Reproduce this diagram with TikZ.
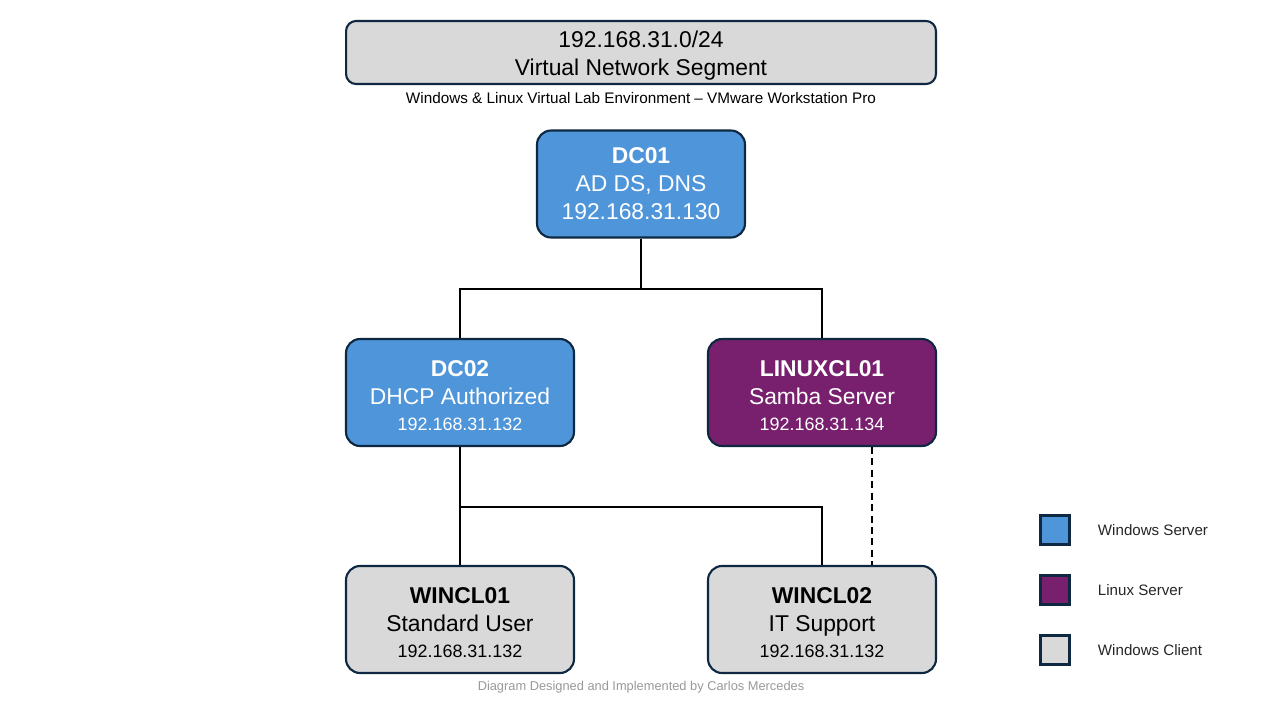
\documentclass[tikz,border=0pt]{standalone}
\usepackage{fontspec}
\setmainfont{Liberation Sans}
\definecolor{winsrv}{HTML}{4E95D9}
\definecolor{linsrv}{HTML}{78206E}
\definecolor{wincli}{HTML}{D9D9D9}
\definecolor{edge}{HTML}{0E2841}
\newcommand\ipsmall[1]{{\fontsize{10.2}{12}\selectfont #1}}
\newcommand\hoststrut{\rule{0pt}{12.4pt}}

\begin{document}
\begin{tikzpicture}[x=0.02cm,y=-0.02cm,line width=1.1pt,
  box/.style={draw=edge,line width=1.2pt,rounded corners=0.28cm,minimum width=4.56cm,minimum height=2.14cm,
    align=center,inner sep=0pt,font=\fontsize{13}{16}\selectfont},
  srv/.style={box,fill=winsrv,text=white}, lin/.style={box,fill=linsrv,text=white},
  cli/.style={box,fill=wincli,text=black},
  key/.style={draw=edge,line width=1.2pt,minimum size=0.58cm,inner sep=0pt},
  keytext/.style={anchor=west,inner sep=0pt,font=\fontsize{8.6}{10}\selectfont,text=black!85}]
\fill[white] (0,0) rectangle (1280,720); \useasboundingbox (0,0) rectangle (1280,720);
% segment header
\node[box,fill=wincli,minimum width=11.8cm,minimum height=1.26cm,rounded corners=0.2cm] (seg) at (641,52.5)
  {\rule{0pt}{13pt}192.168.31.0/24\\Virtual Network Segment};
\node[font=\fontsize{8.7}{10}\selectfont] (lab) at (641,98) {Windows \& Linux Virtual Lab Environment -- VMware Workstation Pro};
% hosts
\node[srv,minimum width=4.16cm] (dc01) at (641,184) {\textbf{DC01}\\AD DS, DNS\\192.168.31.130};
\node[srv] (dc02) at (460,392.5) {\hoststrut\textbf{DC02}\\DHCP Authorized\\[-1.5pt]\ipsmall{192.168.31.132}};
\node[lin] (lnx) at (822,392.5) {\hoststrut\textbf{LINUXCL01}\\Samba Server\\[-1.5pt]\ipsmall{192.168.31.134}};
\node[cli] (wc1) at (460,619.5) {\hoststrut\textbf{WINCL01}\\Standard User\\[-1.5pt]\ipsmall{192.168.31.132}};
\node[cli] (wc2) at (822,619.5) {\hoststrut\textbf{WINCL02}\\IT Support\\[-1.5pt]\ipsmall{192.168.31.132}};
% links
\coordinate (busA) at (641,289); \coordinate (busB) at (460,507);
\draw (dc01) -- (busA); \draw (dc02.north) |- (busA) -| (lnx.north);
\draw (dc02) -- (wc1); \draw (busB) -| (wc2.north);
\draw[dash pattern=on 4pt off 2.5pt] ([xshift=1cm]lnx.south) -- ([xshift=1cm]wc2.north);
% legend
\foreach \c/\t/\y in {winsrv/Windows Server/530,linsrv/Linux Server/590,wincli/Windows Client/650}{
  \node[key,fill=\c] (key-\y) at (1055,\y) {}; \node[keytext] (txt-\y) at (1097,\y) {\t};}
\node[font=\fontsize{7.3}{9}\selectfont,text=black!40] (foot) at (641,687) {Diagram Designed and Implemented by Carlos Mercedes};
\end{tikzpicture}
\end{document}
